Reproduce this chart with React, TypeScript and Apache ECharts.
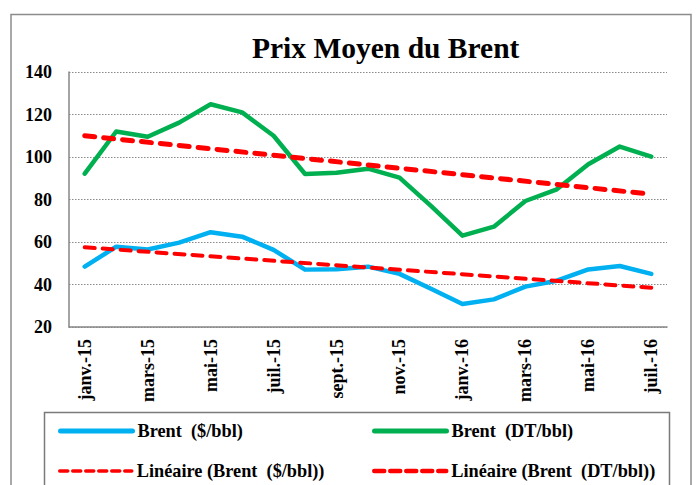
import React, { useEffect, useRef } from "react";
import * as echarts from "echarts";

const categories = [
  "janv.-15", "févr.-15", "mars-15", "avr.-15", "mai-15", "juin-15", "juil.-15",
  "août-15", "sept.-15", "oct.-15", "nov.-15", "déc.-15", "janv.-16", "févr.-16",
  "mars-16", "avr.-16", "mai-16", "juin-16", "juil.-16",
];
const brentUSD = [48.4, 57.8, 56.5, 59.7, 64.6, 62.5, 56.3, 47, 47.2, 48.4, 45, 38, 30.8, 33, 39, 41.8, 47.1, 48.7, 45];
const brentDT = [92.2, 112, 109.5, 116.2, 124.8, 121, 110, 92, 92.6, 94.5, 90.3, 77, 63, 67.2, 79.3, 84.8, 96.6, 104.9, 100.2];
// Trendline endpoints (first and last month)
const trendUSD = [57.5, 38.5];
const trendDT = [110, 82.5];
const yTicks = { min: 20, max: 140, interval: 20 };

const SERIF = "Liberation Serif";

export default function App() {
  const ref = useRef<HTMLDivElement>(null);
  useEffect(() => {
    if (!ref.current) return;
    const chart = echarts.init(ref.current, null, { renderer: "svg" });
    const first = categories[0];
    const last = categories[categories.length - 1];
    const names = [
      "Brent  ($/bbl)",
      "Brent  (DT/bbl)",
      "Linéaire (Brent  ($/bbl))",
      "Linéaire (Brent  (DT/bbl))",
    ];
    const legendPos = [
      { left: 58, top: 422 },
      { left: 372, top: 422 },
      { left: 58, top: 462 },
      { left: 372, top: 462 },
    ];
    const legendText = { fontFamily: SERIF, fontWeight: "bold" as const, fontSize: 18.3, color: "#000", padding: [0, 0, 0, 0] };
    chart.setOption({
      animation: false,
      backgroundColor: "#fff",
      title: {
        text: "Prix Moyen du Brent",
        left: 252,
        top: 33,
        padding: 0,
        textStyle: { fontFamily: SERIF, fontWeight: "bold", fontSize: 29.5, color: "#000" },
      },
      grid: { left: 69, right: 29, top: 72, bottom: 158, containLabel: false },
      xAxis: {
        type: "category",
        data: categories,
        boundaryGap: true,
        axisLine: { show: true, lineStyle: { color: "#868686", width: 1.5 } },
        axisTick: { show: false },
        axisLabel: {
          interval: 1,
          rotate: 90,
          margin: 12,
          fontFamily: SERIF,
          fontWeight: "bold",
          fontSize: 18,
          color: "#000",
        },
        splitLine: { show: false },
      },
      yAxis: {
        type: "value",
        min: yTicks.min,
        max: yTicks.max,
        interval: yTicks.interval,
        axisLine: { show: true, lineStyle: { color: "#868686", width: 1.5 } },
        axisTick: { show: false },
        axisLabel: { margin: 17, fontFamily: SERIF, fontWeight: "bold", fontSize: 18, color: "#000" },
        splitLine: { show: true, lineStyle: { color: "#8a8a8a", type: [1.5, 1.5], width: 1.2 } },
      },
      legend: names.map((n, i) => ({
        data: [n],
        left: legendPos[i].left,
        top: legendPos[i].top,
        padding: 0,
        itemWidth: 72,
        itemHeight: 18,
        itemGap: 6,
        textStyle: legendText,
        itemStyle: { opacity: 0 },
        ...(i >= 2
          ? { lineStyle: { type: i === 2 ? [8, 5] : [10, 6], width: i === 2 ? 3.5 : 4.5, cap: "round" } }
          : { lineStyle: { width: 5, cap: "round" } }),
      })),
      graphic: [
        {
          type: "rect",
          shape: { x: 11, y: 14.5, width: 680, height: 480 },
          style: { fill: "none", stroke: "#8c8c8c", lineWidth: 1.5 },
          silent: true,
          z: -1,
        },
        {
          type: "rect",
          shape: { x: 44.5, y: 412.5, width: 625, height: 100 },
          style: { fill: "none", stroke: "#7a7a7a", lineWidth: 1.5 },
          silent: true,
          z: -1,
        },
      ],
      series: [
        {
          name: names[0],
          type: "line",
          data: brentUSD,
          symbol: "none",
          lineStyle: { color: "#00B0F0", width: 4.5, cap: "round", join: "round" },
          itemStyle: { color: "#00B0F0" },
          z: 3,
        },
        {
          name: names[1],
          type: "line",
          data: brentDT,
          symbol: "none",
          lineStyle: { color: "#00B050", width: 4.5, cap: "round", join: "round" },
          itemStyle: { color: "#00B050" },
          z: 3,
        },
        {
          name: names[2],
          type: "line",
          data: [[first, trendUSD[0]], [last, trendUSD[1]]],
          symbol: "none",
          lineStyle: { color: "#FF0000", width: 4, type: [10, 8], cap: "round" },
          itemStyle: { color: "#FF0000" },
          z: 4,
        },
        {
          name: names[3],
          type: "line",
          data: [[first, trendDT[0]], [last, trendDT[1]]],
          symbol: "none",
          lineStyle: { color: "#FF0000", width: 5, type: [10, 9], cap: "round" },
          itemStyle: { color: "#FF0000" },
          z: 4,
        },
      ],
    });
    return () => chart.dispose();
  }, []);
  return (
    <div
      ref={ref}
      style={{ position: "fixed", left: 0, top: 0, width: 696, height: 485, background: "#fff" }}
    />
  );
}
